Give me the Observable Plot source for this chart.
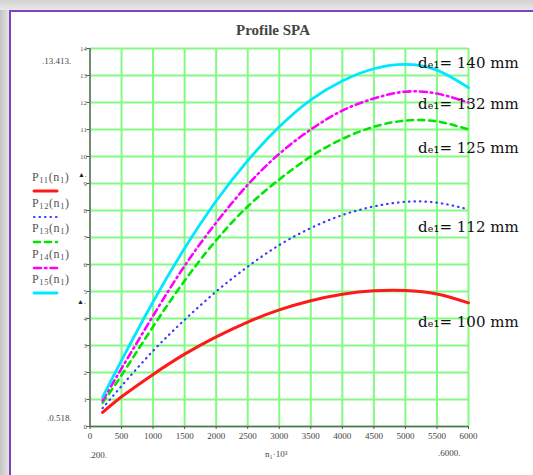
<!DOCTYPE html>
<html><head><meta charset="utf-8">
<script src="https://cdn.jsdelivr.net/npm/d3@7"></script>
<script src="https://cdn.jsdelivr.net/npm/@observablehq/plot@0.6"></script>
<style>
html,body{margin:0;padding:0;background:#fff;}
body{width:533px;height:475px;position:relative;overflow:hidden;font-family:"Liberation Serif","DejaVu Serif",serif;}
#shadowL{position:absolute;left:0;top:0;width:9px;height:475px;background:linear-gradient(to right,#c4c4c4,#e4e4e4);}
#shadowT{position:absolute;left:0;top:0;width:533px;height:10px;background:linear-gradient(to bottom,#d2d2d2,#e8e8e8);}
#frame{position:absolute;left:9px;top:10px;width:540px;height:480px;border-left:2px solid #7d45c2;border-top:2px solid #7d45c2;background:#fff;}
#chart{position:absolute;left:0;top:0;}
.t{position:absolute;white-space:nowrap;color:#444;}
#title{left:0;width:546px;top:22px;text-align:center;font-size:15px;font-weight:bold;color:#444;}
#legend{position:absolute;left:32px;top:171px;}
.li{height:25.5px;position:relative;}
.li span{font-size:12px;color:#555;display:block;line-height:13px;letter-spacing:0.6px;}
.li span sub{font-size:8.5px;vertical-align:-2px;line-height:0;}
.li svg{display:block;margin-top:3px;}
</style></head>
<body>
<div id="shadowL"></div><div id="shadowT"></div><div id="frame"></div>
<div id="chart"></div>
<div class="t" id="title">Profile SPA</div>
<div class="t" style="left:42px;top:56px;font-size:9px;">.13.413.</div>
<div class="t" style="left:47px;top:413px;font-size:9px;">.0.518.</div>
<div class="t" style="left:89px;top:450px;font-size:9px;">.200.</div>
<div class="t" style="left:438px;top:448px;font-size:9px;">.6000.</div>
<div class="t" style="left:265px;top:449px;font-size:9px;">n₁·10³</div>
<div class="t" style="left:78px;top:171px;font-size:7px;color:#222;">▲.</div>
<div class="t" style="left:77px;top:298px;font-size:7px;color:#222;">▲.</div>
<div id="legend"></div>
<script>
// Data
const xs = [200, 500, 1000, 1500, 2000, 2500, 3000, 3500, 4000, 4500, 5000, 5500, 6000];
const p11 = [0.52, 1.10, 1.93, 2.68, 3.32, 3.87, 4.32, 4.66, 4.90, 5.03, 5.04, 4.91, 4.58];
const p12 = [0.68, 1.50, 2.80, 3.95, 5.00, 5.92, 6.72, 7.35, 7.83, 8.15, 8.32, 8.29, 8.04];
const p13 = [0.88, 1.90, 3.70, 5.40, 6.90, 8.15, 9.15, 10.00, 10.65, 11.10, 11.33, 11.30, 11.00];
const p14 = [0.96, 2.15, 4.10, 5.95, 7.55, 8.95, 10.10, 11.00, 11.70, 12.15, 12.40, 12.33, 12.00];
const p15 = [1.09, 2.45, 4.62, 6.60, 8.35, 9.85, 11.10, 12.10, 12.80, 13.25, 13.41, 13.20, 12.55];
const seriesNames = [["P", "11", "(n", "1", ")"], ["P", "12", "(n", "1", ")"], ["P", "13", "(n", "1", ")"], ["P", "14", "(n", "1", ")"], ["P", "15", "(n", "1", ")"]];
const curveLabels = ["dₑ₁= 100 mm", "dₑ₁= 112 mm", "dₑ₁= 125 mm", "dₑ₁= 132 mm", "dₑ₁= 140 mm"];
const labelX = [5200, 5200, 5200, 5200, 5200];
const labelY = [3.85, 7.40, 10.30, 11.93, 13.44];
const xTicks = [0, 500, 1000, 1500, 2000, 2500, 3000, 3500, 4000, 4500, 5000, 5500, 6000];
const yTicks = [0, 1, 2, 3, 4, 5, 6, 7, 8, 9, 10, 11, 12, 13, 14];

const values = [p11, p12, p13, p14, p15];
const styles = [
  {stroke: "#ff1a1a", strokeWidth: 3, dash: null},
  {stroke: "#3a3aff", strokeWidth: 2.2, dash: "0.5,5"},
  {stroke: "#00e600", strokeWidth: 2.6, dash: "6,5"},
  {stroke: "#ff00ff", strokeWidth: 2.6, dash: "7,4,1.5,4"},
  {stroke: "#00e8ff", strokeWidth: 2.8, dash: null}
];

const lineMarks = values.map((v, k) => Plot.line(
  xs.map((x, i) => ({x, y: v[i]})),
  {x: "x", y: "y", curve: "natural", stroke: styles[k].stroke, strokeWidth: styles[k].strokeWidth,
   strokeDasharray: styles[k].dash, strokeLinecap: "round"}
));

const labels = curveLabels.map((t, i) => ({t, x: labelX[i], y: labelY[i]}));

const chart = Plot.plot({
  width: 533, height: 475,
  marginLeft: 89.5, marginRight: 65, marginTop: 48, marginBottom: 49,
  x: {domain: [0, 6000]},
  y: {domain: [0, 14]},
  style: {background: "transparent", fontFamily: "Liberation Serif, DejaVu Serif, serif", overflow: "visible"},
  marks: [
    Plot.gridX(xTicks, {stroke: "#84fa84", strokeWidth: 2, strokeOpacity: 1}),
    Plot.gridY(yTicks, {stroke: "#84fa84", strokeWidth: 2, strokeOpacity: 1}),
    Plot.ruleX([0], {stroke: "#666", strokeWidth: 1.5}),
    Plot.ruleY([0], {stroke: "#666", strokeWidth: 1.5}),
    Plot.axisX(xTicks, {tickSize: 3, tickPadding: 3, fontSize: 9, fill: "#444", stroke: "#555", label: null, tickFormat: d => String(d)}),
    Plot.axisY(yTicks, {tickSize: 3, tickPadding: 0, fontSize: 7, fill: "#555", stroke: "#555", label: null, tickFormat: d => String(d)}),
    ...lineMarks,
    Plot.text(labels, {x: "x", y: "y", text: "t", textAnchor: "start", fontSize: 15, fontFamily: "DejaVu Serif, serif", fill: "#111", clip: false})
  ]
});
document.getElementById("chart").appendChild(chart);

// legend
const leg = d3.select("#legend");
seriesNames.forEach((parts, k) => {
  const item = leg.append("div").attr("class", "li");
  const sp = item.append("span");
  sp.append("tspan").text(parts[0]);
  sp.append("sub").text(parts[1]);
  sp.append("tspan").text(parts[2]);
  sp.append("sub").text(parts[3]);
  sp.append("tspan").text(parts[4]);
  const s = item.append("svg").attr("width", 30).attr("height", 8);
  s.append("line").attr("x1", 2).attr("x2", 25).attr("y1", 4).attr("y2", 4)
    .attr("stroke", styles[k].stroke).attr("stroke-width", styles[k].strokeWidth)
    .attr("stroke-dasharray", styles[k].dash).attr("stroke-linecap", "round");
});
</script>
</body></html>
